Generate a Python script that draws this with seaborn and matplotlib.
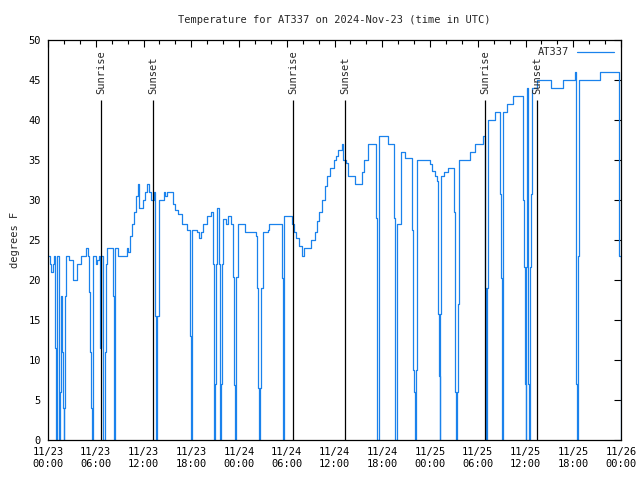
import matplotlib
matplotlib.use("Agg")
import matplotlib.pyplot as plt
import seaborn as sns
import pandas as pd

# hours since 2024-11-23 00:00 UTC, temperature in degrees F (dropouts go to 0)
hours = [
    0.0, 0.2, 0.4, 0.6, 0.75, 0.88, 0.95, 1.0, 1.1, 1.3, 1.4, 1.55, 1.65, 1.75, 1.85,
    1.95, 2.05, 2.15, 2.3, 2.6, 3.1, 3.6, 4.0, 4.2, 4.75, 5.0, 5.15, 5.3, 5.45, 5.55,
    5.7, 6.0, 6.2, 6.45, 6.55, 6.62, 6.8, 6.95, 7.1, 7.25, 7.45, 8.05, 8.15, 8.25, 8.32,
    8.42, 8.8, 9.6, 9.9, 10.1, 10.25, 10.5, 10.75, 11.0, 11.25, 11.4, 11.9, 12.15, 12.45,
    12.7, 13.0, 13.35, 13.45, 13.55, 13.62, 13.7, 13.9, 14.55, 14.75, 15.0, 15.55, 15.7,
    15.95, 16.3, 16.8, 17.5, 17.8, 17.92, 18.0, 18.15, 18.7, 18.95, 19.2, 19.45, 20.0,
    20.5, 20.7, 20.8, 20.88, 21.0, 21.1, 21.24, 21.45, 21.55, 21.65, 21.75, 21.85, 22.0,
    22.35, 22.6, 23.0, 23.2, 23.35, 23.45, 23.6, 23.85, 24.5, 24.75, 25.9, 26.1, 26.3,
    26.4, 26.5, 26.65, 26.8, 27.0, 27.6, 27.75, 29.4, 29.5, 29.58, 29.7, 30.1, 30.6,
    30.9, 31.1, 31.6, 31.95, 32.2, 32.8, 33.1, 33.6, 33.8, 34.0, 34.4, 34.75, 35.1, 35.4,
    35.9, 36.2, 36.5, 36.9, 37.05, 37.4, 37.7, 38.6, 39.5, 39.7, 40.2, 41.1, 41.2, 41.3,
    41.4, 41.55, 42.35, 42.7, 43.35, 43.45, 43.55, 43.65, 43.8, 43.9, 44.4, 44.8, 45.7,
    45.8, 45.9, 46.0, 46.1, 46.25, 46.37, 47.75, 48.0, 48.3, 48.6, 48.85, 48.95, 49.05,
    49.12, 49.2, 49.3, 49.4, 49.8, 50.3, 50.9, 51.0, 51.1, 51.2, 51.3, 51.4, 51.5, 51.65,
    52.8, 53.0, 53.6, 54.3, 54.6, 54.85, 54.95, 55.0, 55.05, 55.2, 55.3, 55.8, 56.2,
    56.8, 56.85, 56.92, 57.0, 57.05, 57.17, 57.7, 58.1, 58.45, 59.6, 59.7, 59.8, 59.9,
    60.0, 60.1, 60.25, 60.35, 60.45, 60.6, 60.7, 60.82, 61.5, 63.1, 63.21, 64.6, 64.72,
    66.0, 66.2, 66.3, 66.4, 66.5, 66.6, 66.7, 69.1, 69.35, 71.75, 71.8, 71.95,
]
temp_f = [
    23, 22, 21, 22, 23, 11.5, 3.8, 0, 23, 23, 0, 6, 18, 11, 4,
    0, 4, 18, 23, 22.5, 20, 22, 22, 23, 24, 23, 18.5, 11, 4, 0,
    23, 22, 22.5, 23, 11.5, 23, 23, 0, 11, 22, 24, 24, 18, 6, 0,
    24, 23, 23, 24, 23.5, 25.5, 27, 28.5, 30.5, 32, 29, 30, 31, 32,
    31, 30, 31, 15.5, 7.5, 0, 15.5, 30, 31, 30.5, 31, 31, 29.5,
    28.8, 28.2, 27, 26.2, 13, 6.5, 0, 26.2, 26, 25.3, 26, 27, 28,
    28.5, 22, 7, 0, 7, 22, 29, 22, 7, 0, 7, 22, 27.6,
    27, 28, 27, 20.4, 6.9, 0, 20.4, 27, 27, 26, 26, 25.5, 19,
    6.5, 0, 6.5, 19, 26, 26.2, 27, 20.2, 6.9, 0, 28, 28, 27,
    26, 25.3, 24.2, 23, 24, 24, 25, 26, 27.4, 28.5, 30, 31.7, 33, 34,
    35, 35.5, 36.2, 37, 35, 34.6, 33, 32, 33.5, 35, 37, 37, 27.7, 9.6,
    0, 38, 38, 37, 37, 27.7, 9.4, 0, 9.4, 27, 36, 35.2, 35.2,
    26.2, 8.8, 6, 0, 8.8, 35, 35, 34.5, 33.6, 33, 32.4, 25, 15.7,
    8, 0, 15.7, 33, 33.5, 34, 34, 28.5, 17, 6, 0, 6, 17, 35,
    35, 36, 37, 37, 38, 38, 19, 6.6, 0, 19, 40, 40, 41,
    41, 30.8, 20.3, 10.4, 0, 41, 42, 42, 43, 43, 30, 21.6, 7,
    0, 21.6, 44, 7, 0, 21.6, 30.8, 44, 45, 45, 44, 44, 45,
    45, 46, 23, 7, 0, 23, 45, 45, 46, 46, 23, 0,
]

sunrise_hours = [6.66, 30.79, 54.91]
sunset_hours = [13.19, 37.32, 61.45]

tick_hours = [0, 6, 12, 18, 24, 30, 36, 42, 48, 54, 60, 66, 72]
tick_labels = [
    "11/23\n00:00", "11/23\n06:00", "11/23\n12:00", "11/23\n18:00", "11/24\n00:00",
    "11/24\n06:00", "11/24\n12:00", "11/24\n18:00", "11/25\n00:00", "11/25\n06:00",
    "11/25\n12:00", "11/25\n18:00", "11/26\n00:00",
]

df = pd.DataFrame({"hour": hours, "temp": temp_f})

sns.set_theme(style="white")
plt.rcParams["font.family"] = ["DejaVu Sans Mono"]
plt.rcParams["font.size"] = 7.5

fig = plt.figure(figsize=(6.4, 4.8), dpi=100)
ax = fig.add_axes([48 / 640, 40 / 480, 573 / 640, 400 / 480])

sns.lineplot(data=df, x="hour", y="temp", ax=ax, sort=False, estimator=None,
             drawstyle="steps-post", color="#1a82ec", linewidth=0.9, label="AT337")

for h in sunrise_hours:
    ax.vlines(h, 0, 42.5, color="black", linewidth=0.9)
    ax.text(h, 43.3, "Sunrise", rotation=90, ha="center", va="bottom", fontsize=7.5)
for h in sunset_hours:
    ax.vlines(h, 0, 42.5, color="black", linewidth=0.9)
    ax.text(h, 43.3, "Sunset", rotation=90, ha="center", va="bottom", fontsize=7.5)

ax.set_xlim(0, 72)
ax.set_ylim(0, 50)
ax.set_xticks(tick_hours)
ax.set_xticklabels(tick_labels)
ax.set_xticks(range(0, 73, 2), minor=True)
ax.set_yticks(range(0, 51, 5))
ax.tick_params(which="both", direction="in", top=True, right=True, labelsize=7.5,
               colors="black")
ax.tick_params(which="major", length=5, width=0.8, pad=5)
ax.tick_params(which="minor", length=3, width=0.8)
for s in ax.spines.values():
    s.set_color("black")
    s.set_linewidth(0.9)

ax.set_xlabel("")
ax.set_ylabel("degrees F", fontsize=7.5, labelpad=6)
ax.set_title("Temperature for AT337 on 2024-Nov-23 (time in UTC)", fontsize=7.5, pad=12)

ax.legend(loc="upper right", frameon=False, markerfirst=False, handlelength=3.5,
          fontsize=7.5, borderaxespad=0.3)

fig.savefig("out.png", dpi=100)
